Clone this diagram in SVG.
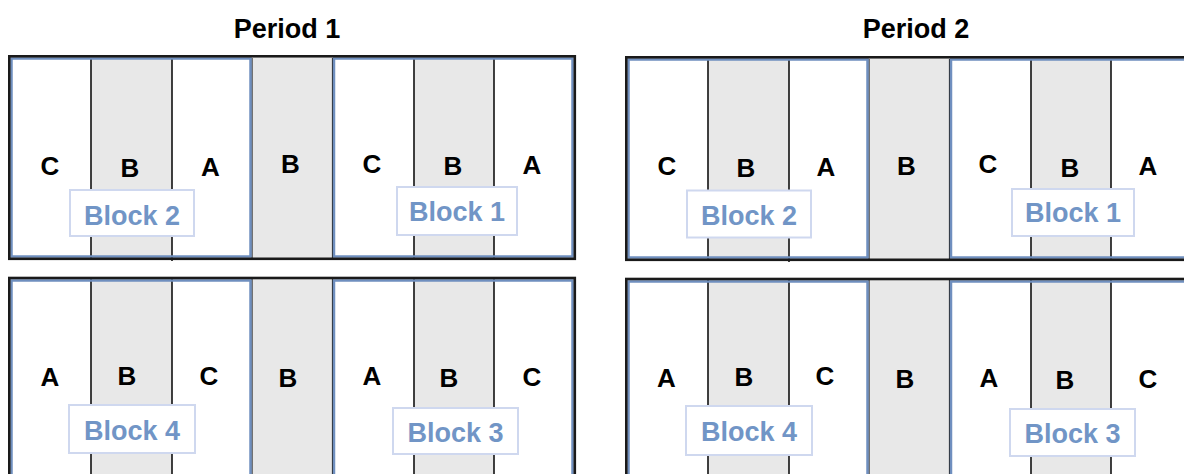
<svg xmlns="http://www.w3.org/2000/svg" width="1184" height="474" viewBox="0 0 1184 474">
<style>
.bg{fill:#ffffff}
.gray{fill:#e8e8e8}
.div{stroke:#111;stroke-width:1.6}
.mid{stroke:#222;stroke-width:1.2}
.blk{fill:none;stroke:#6f8fbf;stroke-width:2.5}
.outer{fill:none;stroke:#1a1a1a;stroke-width:2.6}
.let{font-family:"Liberation Sans",Arial,sans-serif;font-weight:bold;font-size:26px;fill:#000;text-anchor:middle}
.title{font-family:"Liberation Sans",Arial,sans-serif;font-weight:bold;font-size:27px;fill:#000;text-anchor:middle}
.lbox{fill:#fff;stroke:#cfd8ef;stroke-width:2}
.ltxt{font-family:"Liberation Sans",Arial,sans-serif;font-weight:bold;font-size:27px;fill:#7195c6;text-anchor:middle}
</style>
<rect width="1184" height="474" fill="#fff"/>
<text class="title" x="287" y="37.5">Period 1</text>
<text class="title" x="916" y="37.5">Period 2</text>

<!-- Period 1 top -->
<g id="p1-top">
<rect class="gray" x="91" y="58" width="81" height="200"/>
<rect class="gray" x="251" y="58" width="82" height="200"/>
<rect class="gray" x="414" y="58" width="80" height="200"/>
<line class="div" x1="91" y1="58" x2="91" y2="258"/>
<line class="div" x1="172" y1="58" x2="172" y2="261"/>
<line class="div" x1="414" y1="58" x2="414" y2="258"/>
<line class="div" x1="494" y1="58" x2="494" y2="258"/>
<line class="mid" x1="252" y1="58" x2="252" y2="258"/>
<line class="mid" x1="332.5" y1="58" x2="332.5" y2="258"/>
<rect class="blk" x="11.5" y="58.5" width="239" height="198"/>
<rect class="blk" x="334" y="58.5" width="238.5" height="198"/>
<rect class="outer" x="9.3" y="56.3" width="565.5" height="202.5"/>
<text class="let" x="50" y="175">C</text>
<text class="let" x="130" y="176.5">B</text>
<text class="let" x="210.5" y="176">A</text>
<text class="let" x="290.5" y="173">B</text>
<text class="let" x="372" y="172.5">C</text>
<text class="let" x="453" y="175">B</text>
<text class="let" x="532" y="174">A</text>
<g id="p1-block2"><rect class="lbox" x="70" y="190" width="124" height="46"/><text class="ltxt" x="132" y="225">Block 2</text></g>
<g id="p1-block1"><rect class="lbox" x="397" y="187" width="120" height="48"/><text class="ltxt" x="457" y="221">Block 1</text></g>
</g>

<!-- Period 1 bottom -->
<g id="p1-bottom">
<rect class="gray" x="91" y="279" width="81" height="200"/>
<rect class="gray" x="251" y="279" width="82" height="200"/>
<rect class="gray" x="414" y="279" width="80" height="200"/>
<line class="div" x1="91" y1="279" x2="91" y2="480"/>
<line class="div" x1="172" y1="279" x2="172" y2="480"/>
<line class="div" x1="414" y1="279" x2="414" y2="480"/>
<line class="div" x1="494" y1="279" x2="494" y2="480"/>
<line class="mid" x1="252" y1="279" x2="252" y2="480"/>
<line class="mid" x1="332.5" y1="279" x2="332.5" y2="480"/>
<rect class="blk" x="11.5" y="280.5" width="239" height="220"/>
<rect class="blk" x="334" y="280.5" width="238.5" height="220"/>
<rect class="outer" x="9.3" y="278" width="565.5" height="220"/>
<text class="let" x="50" y="386">A</text>
<text class="let" x="127" y="385">B</text>
<text class="let" x="209" y="385">C</text>
<text class="let" x="288" y="386.5">B</text>
<text class="let" x="372" y="385">A</text>
<text class="let" x="449" y="387">B</text>
<text class="let" x="532" y="386">C</text>
<g id="p1-block4"><rect class="lbox" x="69" y="405" width="126" height="48"/><text class="ltxt" x="132" y="440">Block 4</text></g>
<g id="p1-block3"><rect class="lbox" x="393" y="408" width="125" height="46"/><text class="ltxt" x="455.5" y="441.5">Block 3</text></g>
</g>

<!-- Period 2 top -->
<g id="p2-top">
<rect class="gray" x="708" y="59" width="81" height="200"/>
<rect class="gray" x="868" y="59" width="82" height="200"/>
<rect class="gray" x="1031" y="59" width="80" height="200"/>
<line class="div" x1="708" y1="59" x2="708" y2="259"/>
<line class="div" x1="789" y1="59" x2="789" y2="262"/>
<line class="div" x1="1031" y1="59" x2="1031" y2="259"/>
<line class="div" x1="1111" y1="59" x2="1111" y2="259"/>
<line class="mid" x1="869" y1="59" x2="869" y2="259"/>
<line class="mid" x1="949.5" y1="59" x2="949.5" y2="259"/>
<rect class="blk" x="628.5" y="59.5" width="239" height="198"/>
<rect class="blk" x="951" y="59.5" width="238.5" height="198"/>
<rect class="outer" x="626.3" y="57.3" width="565.5" height="202.5"/>
<text class="let" x="667" y="175">C</text>
<text class="let" x="746" y="176.5">B</text>
<text class="let" x="826" y="176">A</text>
<text class="let" x="906.5" y="175">B</text>
<text class="let" x="988" y="173">C</text>
<text class="let" x="1070" y="176.5">B</text>
<text class="let" x="1148" y="175">A</text>
<g id="p2-block2"><rect class="lbox" x="687" y="190.5" width="124" height="47"/><text class="ltxt" x="749" y="225">Block 2</text></g>
<g id="p2-block1"><rect class="lbox" x="1012" y="189" width="122" height="47"/><text class="ltxt" x="1073" y="222">Block 1</text></g>
</g>

<!-- Period 2 bottom -->
<g id="p2-bottom">
<rect class="gray" x="708" y="280" width="81" height="200"/>
<rect class="gray" x="868" y="280" width="82" height="200"/>
<rect class="gray" x="1031" y="280" width="80" height="200"/>
<line class="div" x1="708" y1="280" x2="708" y2="480"/>
<line class="div" x1="789" y1="280" x2="789" y2="480"/>
<line class="div" x1="1031" y1="280" x2="1031" y2="480"/>
<line class="div" x1="1111" y1="280" x2="1111" y2="480"/>
<line class="mid" x1="869" y1="280" x2="869" y2="480"/>
<line class="mid" x1="949.5" y1="280" x2="949.5" y2="480"/>
<rect class="blk" x="628.5" y="281.5" width="239" height="220"/>
<rect class="blk" x="951" y="281.5" width="238.5" height="220"/>
<rect class="outer" x="626.3" y="279" width="565.5" height="220"/>
<text class="let" x="666.5" y="386.5">A</text>
<text class="let" x="744" y="386">B</text>
<text class="let" x="825" y="385">C</text>
<text class="let" x="905" y="387.5">B</text>
<text class="let" x="989" y="386.5">A</text>
<text class="let" x="1065" y="389">B</text>
<text class="let" x="1148" y="388">C</text>
<g id="p2-block4"><rect class="lbox" x="686" y="406" width="126" height="49"/><text class="ltxt" x="749" y="440.5">Block 4</text></g>
<g id="p2-block3"><rect class="lbox" x="1010" y="409" width="125" height="47"/><text class="ltxt" x="1072.5" y="442.5">Block 3</text></g>
</g>
</svg>
